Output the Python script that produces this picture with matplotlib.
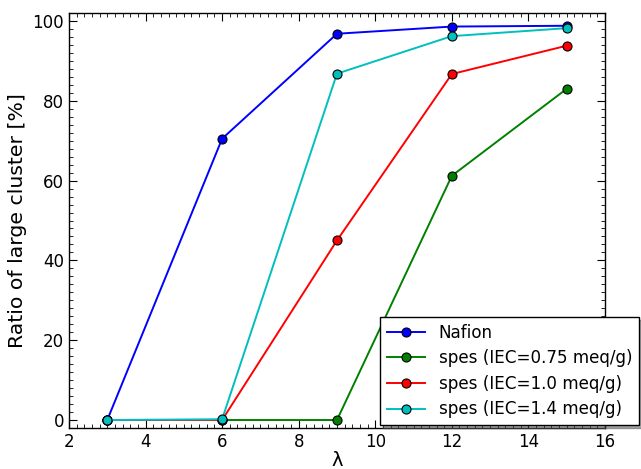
import matplotlib
matplotlib.use('Agg')
import matplotlib.pyplot as plt
from matplotlib.ticker import MultipleLocator

# Water content lambda and ratio of large cluster (%) for each membrane
lam = [3, 6, 9, 12, 15]
nafion = [0.0, 70.5, 96.8, 98.6, 98.8]
spes_075 = [0.0, 0.0, 0.0, 61.2, 83.0]
spes_10 = [0.0, 0.0, 45.0, 86.7, 93.8]
spes_14 = [0.0, 0.2, 86.8, 96.2, 98.2]

labels = ['Nafion', 'spes (IEC=0.75 meq/g)', 'spes (IEC=1.0 meq/g)', 'spes (IEC=1.4 meq/g)']
colors = ['b', 'g', 'r', 'c']

fig = plt.figure(figsize=(6.41, 4.69), dpi=100)
ax = fig.add_axes([0.1076, 0.0874, 0.8362, 0.8849])

for y, lab, c in zip([nafion, spes_075, spes_10, spes_14], labels, colors):
    ax.plot(lam, y, marker='o', linestyle='-', color=c, linewidth=1.4,
            markersize=6.5, markeredgecolor='k', markeredgewidth=0.8, label=lab)

ax.set_xlim(2, 16)
ax.set_ylim(-2, 102)
ax.xaxis.set_major_locator(MultipleLocator(2))
ax.xaxis.set_minor_locator(MultipleLocator(0.2))
ax.yaxis.set_major_locator(MultipleLocator(20))
ax.yaxis.set_minor_locator(MultipleLocator(2))
ax.tick_params(which='both', direction='in', top=True, right=True, labelsize=12)
ax.tick_params(which='major', length=6)
ax.tick_params(which='minor', length=3)
for s in ax.spines.values():
    s.set_linewidth(1.0)

ax.set_xlabel('λ', fontsize=14, labelpad=0)
ax.set_ylabel('Ratio of large cluster [%]', fontsize=14.7)

leg = ax.legend(loc='lower left', bbox_to_anchor=(0.58, 0.007), fontsize=12.1,
                fancybox=False, shadow=True, framealpha=1, edgecolor='k',
                handlelength=2.3, handletextpad=0.8, borderaxespad=0,
                labelspacing=0.45)
leg.get_frame().set_linewidth(1.0)

fig.savefig('out.png', dpi=100)
